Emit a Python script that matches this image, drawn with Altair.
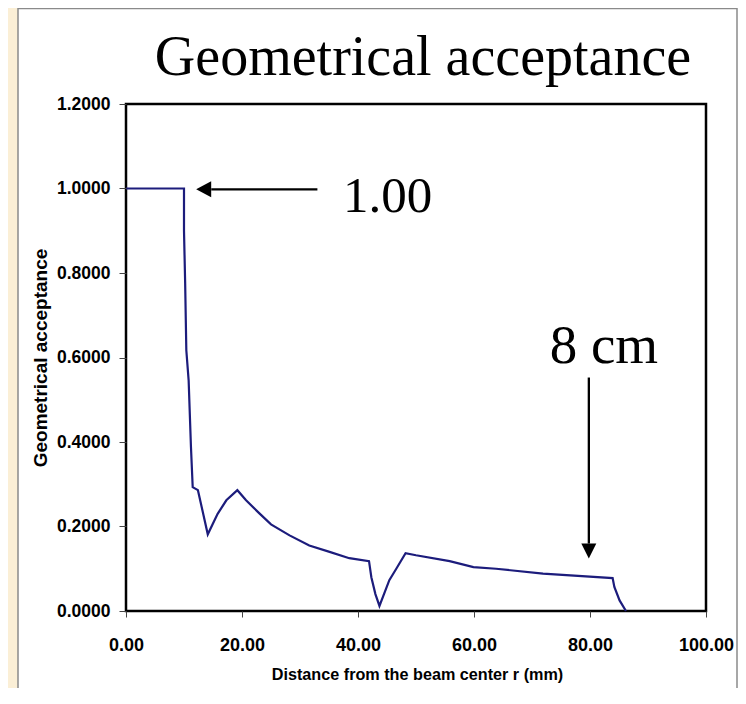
import altair as alt
import pandas as pd

# ---- data ----
r_mm = [0, 10.0, 10.0, 10.2, 10.4, 10.8, 11.2, 11.5, 12.4, 14.1, 15.8, 17.3, 19.2,
        20.7, 23.0, 25.0, 28.2, 31.6, 35.1, 38.5, 41.9, 42.3, 43.0, 43.7,
        45.4, 46.6, 48.2, 50.0, 55.8, 59.9, 63.8, 71.9, 83.9, 84.2, 85.1, 86.2]
acceptance = [1.0, 1.0, 0.90, 0.776, 0.617, 0.546, 0.388, 0.293, 0.286, 0.1815, 0.230, 0.262, 0.286,
              0.262, 0.231, 0.205, 0.179, 0.155, 0.140, 0.125, 0.118, 0.080, 0.040, 0.012,
              0.073, 0.100, 0.137, 0.132, 0.118, 0.104, 0.100, 0.0885, 0.078, 0.057, 0.025, 0.0]

x_ticks = [0, 20, 40, 60, 80, 100]
y_ticks = [0, 0.2, 0.4, 0.6, 0.8, 1.0, 1.2]

title_text = "Geometrical acceptance"
x_title = "Distance from the beam center r (mm)"
y_title = "Geometrical acceptance"

# annotations (data coordinates)
ann_labels = ["1.00", "8 cm"]
ann_x = [45.1, 82.4]
ann_y = [0.945, 0.586]
ann_size = [51, 55]

arrow_x1 = [14.7, 79.8]
arrow_x2 = [33.0, 79.8]
arrow_y1 = [0.998, 0.1596]
arrow_y2 = [0.998, 0.5526]
head_x = [12.1, 79.8]
head_y = [0.998, 0.124]
head_shape = ["M0,0L2,-1.07L2,1.07Z", "M0,0L-1,-2L1,-2Z"]

curve = pd.DataFrame({"i": list(range(len(r_mm))), "r": r_mm, "a": acceptance})
ann = pd.DataFrame({"t": ann_labels, "x": ann_x, "y": ann_y, "fs": ann_size})
arrows = pd.DataFrame({"x": arrow_x1, "x2": arrow_x2, "y": arrow_y1, "y2": arrow_y2})
heads = pd.DataFrame({"x": head_x, "y": head_y, "s": head_shape})

xs = alt.Scale(domain=[0, 100], nice=False, zero=False)
ys = alt.Scale(domain=[0, 1.2], nice=False)

SANS = "Liberation Sans"
SERIF = "Liberation Serif"

strip = alt.Chart(alt.Data(values=[{}])).mark_rect(
    fill="#fbefd6", strokeWidth=0
).encode(x=alt.value(-120), x2=alt.value(-108), y=alt.value(-100), y2=alt.value(700))

frame = alt.Chart(alt.Data(values=[{}])).mark_rect(
    fillOpacity=0, stroke="#8a8a8a", strokeWidth=1.5
).encode(x=alt.value(-108), x2=alt.value(611), y=alt.value(-95.5), y2=alt.value(700))

line = alt.Chart(curve).mark_line(color="#1c1c7c", strokeWidth=2.2).encode(
    x=alt.X("r:Q", scale=xs, axis=alt.Axis(
        values=x_ticks, format=".2f", title=x_title, grid=False, domain=False,
        tickSize=6, tickColor="#444", tickWidth=1, labelPadding=19, labelFlush=False,
        labelFont=SANS, labelFontSize=18, labelFontWeight="bold", labelColor="black",
        titleFont=SANS, titleFontSize=16.2, titleFontWeight="bold", titleColor="black",
        titleX=291, titleY=68, titleBaseline="alphabetic", titleAlign="center", zindex=1)),
    y=alt.Y("a:Q", scale=ys, axis=alt.Axis(
        values=y_ticks, format=".4f", title=y_title, grid=False, domain=False,
        tickSize=7, tickColor="#444", tickWidth=1, labelPadding=9, labelFlush=False,
        labelFont=SANS, labelFontSize=17.5, labelFontWeight="bold", labelColor="black",
        titleFont=SANS, titleFontSize=19, titleFontWeight="bold", titleColor="black",
        titleX=-86, titleY=253.5, titleAngle=270, titleBaseline="middle", titleAlign="center",
        zindex=1)),
    order="i:Q",
)

rules = alt.Chart(arrows).mark_rule(color="black", strokeWidth=2.3).encode(
    x=alt.X("x:Q", scale=xs), x2="x2:Q",
    y=alt.Y("y:Q", scale=ys), y2="y2:Q",
)

heads_layer = alt.Chart(heads).mark_point(
    filled=True, color="black", opacity=1, size=225, strokeWidth=0
).encode(
    x=alt.X("x:Q", scale=xs), y=alt.Y("y:Q", scale=ys),
    shape=alt.Shape("s:N", scale=None, legend=None),
)

ann_text = alt.Chart(ann).mark_text(
    font=SERIF, color="black", align="center", baseline="alphabetic"
).encode(x=alt.X("x:Q", scale=xs), y=alt.Y("y:Q", scale=ys), text="t:N",
         size=alt.Size("fs:Q", scale=None, legend=None))

title = alt.Chart(alt.Data(values=[{"t": title_text}])).mark_text(
    font=SERIF, fontSize=56, color="black", align="center", baseline="alphabetic"
).encode(x=alt.value(297), y=alt.value(-29.5), text="t:N")

chart = alt.layer(strip, frame, line, rules, heads_layer, ann_text, title).properties(
    width=580, height=507,
    padding={"left": 118, "top": 96, "right": 32, "bottom": 77},
    autosize=alt.AutoSizeParams(type="none"),
    background="white",
).configure_view(stroke="black", strokeWidth=2.5)

chart.save("out.html", embed_options={"renderer": "svg", "actions": False})
